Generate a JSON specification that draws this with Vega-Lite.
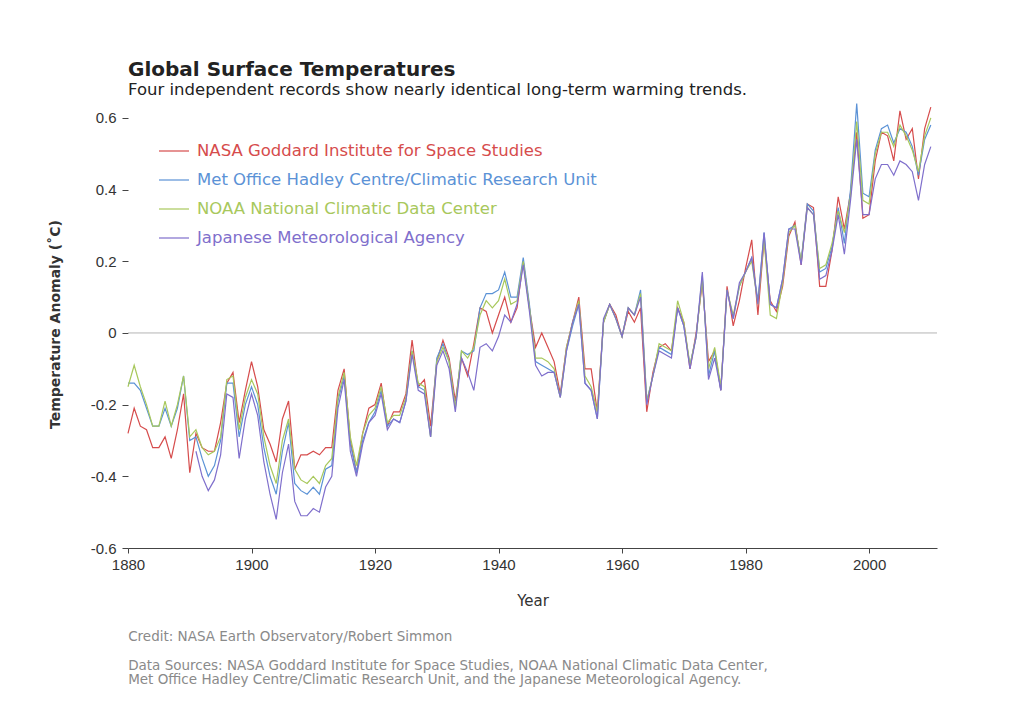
{
"$schema": "https://vega.github.io/schema/vega-lite/v6.json",
"background": "white",
"padding": {"left": 48, "top": 59, "right": 5, "bottom": 5},
"title": {"text": "Credit: NASA Earth Observatory/Robert Simmon", "subtitle": ["Data Sources: NASA Goddard Institute for Space Studies, NOAA National Climatic Data Center,", "Met Office Hadley Centre/Climatic Research Unit, and the Japanese Meteorological Agency."], "orient": "bottom", "anchor": "start", "frame": "bounds", "dx": 80, "offset": 22, "font": "DejaVu Sans", "fontSize": 13.5, "fontWeight": "normal", "color": "#8a8a8a", "subtitleFont": "DejaVu Sans", "subtitleFontSize": 13.5, "subtitleColor": "#8a8a8a", "subtitlePadding": 15, "subtitleLineHeight": 14},
"vconcat": [{
"title": {"text": "Global Surface Temperatures", "subtitle": "Four independent records show nearly identical long-term warming trends.", "anchor": "start", "frame": "group", "font": "DejaVu Sans", "fontSize": 20, "fontWeight": "bold", "color": "#222222", "subtitleFont": "DejaVu Sans", "subtitleFontSize": 16.5, "subtitleColor": "#222222", "subtitlePadding": 2, "offset": 2},
"width": 809,
"height": 448,
"layer": [
{"data": {"values": [{}]}, "mark": {"type": "rule", "color": "#b5b5b5", "strokeWidth": 1}, "encoding": {"y": {"datum": 0, "type": "quantitative"}}},
{"data": {"values": [
{"x":1880,"s":"a","t":-0.28},{"x":1881,"s":"a","t":-0.21},{"x":1882,"s":"a","t":-0.26},{"x":1883,"s":"a","t":-0.27},{"x":1884,"s":"a","t":-0.32},{"x":1885,"s":"a","t":-0.32},{"x":1886,"s":"a","t":-0.29},{"x":1887,"s":"a","t":-0.35},{"x":1888,"s":"a","t":-0.27},{"x":1889,"s":"a","t":-0.17},
{"x":1890,"s":"a","t":-0.39},{"x":1891,"s":"a","t":-0.28},{"x":1892,"s":"a","t":-0.32},{"x":1893,"s":"a","t":-0.33},{"x":1894,"s":"a","t":-0.33},{"x":1895,"s":"a","t":-0.25},{"x":1896,"s":"a","t":-0.14},{"x":1897,"s":"a","t":-0.11},{"x":1898,"s":"a","t":-0.25},{"x":1899,"s":"a","t":-0.16},
{"x":1900,"s":"a","t":-0.08},{"x":1901,"s":"a","t":-0.15},{"x":1902,"s":"a","t":-0.27},{"x":1903,"s":"a","t":-0.31},{"x":1904,"s":"a","t":-0.36},{"x":1905,"s":"a","t":-0.24},{"x":1906,"s":"a","t":-0.19},{"x":1907,"s":"a","t":-0.38},{"x":1908,"s":"a","t":-0.34},{"x":1909,"s":"a","t":-0.34},
{"x":1910,"s":"a","t":-0.33},{"x":1911,"s":"a","t":-0.34},{"x":1912,"s":"a","t":-0.32},{"x":1913,"s":"a","t":-0.32},{"x":1914,"s":"a","t":-0.16},{"x":1915,"s":"a","t":-0.10},{"x":1916,"s":"a","t":-0.30},{"x":1917,"s":"a","t":-0.39},{"x":1918,"s":"a","t":-0.28},{"x":1919,"s":"a","t":-0.21},
{"x":1920,"s":"a","t":-0.20},{"x":1921,"s":"a","t":-0.14},{"x":1922,"s":"a","t":-0.26},{"x":1923,"s":"a","t":-0.22},{"x":1924,"s":"a","t":-0.22},{"x":1925,"s":"a","t":-0.17},{"x":1926,"s":"a","t":-0.02},{"x":1927,"s":"a","t":-0.15},{"x":1928,"s":"a","t":-0.13},{"x":1929,"s":"a","t":-0.26},
{"x":1930,"s":"a","t":-0.08},{"x":1931,"s":"a","t":-0.02},{"x":1932,"s":"a","t":-0.07},{"x":1933,"s":"a","t":-0.19},{"x":1934,"s":"a","t":-0.07},{"x":1935,"s":"a","t":-0.12},{"x":1936,"s":"a","t":-0.03},{"x":1937,"s":"a","t":0.07},{"x":1938,"s":"a","t":0.06},{"x":1939,"s":"a","t":0.00},
{"x":1940,"s":"a","t":0.05},{"x":1941,"s":"a","t":0.10},{"x":1942,"s":"a","t":0.03},{"x":1943,"s":"a","t":0.07},{"x":1944,"s":"a","t":0.20},{"x":1945,"s":"a","t":0.07},{"x":1946,"s":"a","t":-0.04},{"x":1947,"s":"a","t":0.00},{"x":1948,"s":"a","t":-0.04},{"x":1949,"s":"a","t":-0.08},
{"x":1950,"s":"a","t":-0.17},{"x":1951,"s":"a","t":-0.04},{"x":1952,"s":"a","t":0.03},{"x":1953,"s":"a","t":0.10},{"x":1954,"s":"a","t":-0.10},{"x":1955,"s":"a","t":-0.10},{"x":1956,"s":"a","t":-0.22},{"x":1957,"s":"a","t":0.03},{"x":1958,"s":"a","t":0.08},{"x":1959,"s":"a","t":0.05},
{"x":1960,"s":"a","t":-0.01},{"x":1961,"s":"a","t":0.06},{"x":1962,"s":"a","t":0.03},{"x":1963,"s":"a","t":0.07},{"x":1964,"s":"a","t":-0.22},{"x":1965,"s":"a","t":-0.11},{"x":1966,"s":"a","t":-0.04},{"x":1967,"s":"a","t":-0.03},{"x":1968,"s":"a","t":-0.05},{"x":1969,"s":"a","t":0.07},
{"x":1970,"s":"a","t":0.03},{"x":1971,"s":"a","t":-0.10},{"x":1972,"s":"a","t":0.00},{"x":1973,"s":"a","t":0.14},{"x":1974,"s":"a","t":-0.08},{"x":1975,"s":"a","t":-0.05},{"x":1976,"s":"a","t":-0.16},{"x":1977,"s":"a","t":0.13},{"x":1978,"s":"a","t":0.02},{"x":1979,"s":"a","t":0.09},
{"x":1980,"s":"a","t":0.18},{"x":1981,"s":"a","t":0.26},{"x":1982,"s":"a","t":0.05},{"x":1983,"s":"a","t":0.26},{"x":1984,"s":"a","t":0.09},{"x":1985,"s":"a","t":0.06},{"x":1986,"s":"a","t":0.13},{"x":1987,"s":"a","t":0.27},{"x":1988,"s":"a","t":0.31},{"x":1989,"s":"a","t":0.19},
{"x":1990,"s":"a","t":0.36},{"x":1991,"s":"a","t":0.35},{"x":1992,"s":"a","t":0.13},{"x":1993,"s":"a","t":0.13},{"x":1994,"s":"a","t":0.23},{"x":1995,"s":"a","t":0.38},{"x":1996,"s":"a","t":0.29},{"x":1997,"s":"a","t":0.39},{"x":1998,"s":"a","t":0.56},{"x":1999,"s":"a","t":0.32},
{"x":2000,"s":"a","t":0.33},{"x":2001,"s":"a","t":0.48},{"x":2002,"s":"a","t":0.56},{"x":2003,"s":"a","t":0.55},{"x":2004,"s":"a","t":0.48},{"x":2005,"s":"a","t":0.62},{"x":2006,"s":"a","t":0.54},{"x":2007,"s":"a","t":0.57},{"x":2008,"s":"a","t":0.43},{"x":2009,"s":"a","t":0.57},{"x":2010,"s":"a","t":0.63},
{"x":1880,"s":"b","t":-0.14},{"x":1881,"s":"b","t":-0.14},{"x":1882,"s":"b","t":-0.16},{"x":1883,"s":"b","t":-0.21},{"x":1884,"s":"b","t":-0.26},{"x":1885,"s":"b","t":-0.26},{"x":1886,"s":"b","t":-0.21},{"x":1887,"s":"b","t":-0.26},{"x":1888,"s":"b","t":-0.21},{"x":1889,"s":"b","t":-0.12},
{"x":1890,"s":"b","t":-0.30},{"x":1891,"s":"b","t":-0.29},{"x":1892,"s":"b","t":-0.35},{"x":1893,"s":"b","t":-0.40},{"x":1894,"s":"b","t":-0.37},{"x":1895,"s":"b","t":-0.30},{"x":1896,"s":"b","t":-0.14},{"x":1897,"s":"b","t":-0.14},{"x":1898,"s":"b","t":-0.29},{"x":1899,"s":"b","t":-0.20},
{"x":1900,"s":"b","t":-0.15},{"x":1901,"s":"b","t":-0.20},{"x":1902,"s":"b","t":-0.32},{"x":1903,"s":"b","t":-0.40},{"x":1904,"s":"b","t":-0.45},{"x":1905,"s":"b","t":-0.33},{"x":1906,"s":"b","t":-0.25},{"x":1907,"s":"b","t":-0.42},{"x":1908,"s":"b","t":-0.44},{"x":1909,"s":"b","t":-0.45},
{"x":1910,"s":"b","t":-0.43},{"x":1911,"s":"b","t":-0.45},{"x":1912,"s":"b","t":-0.38},{"x":1913,"s":"b","t":-0.37},{"x":1914,"s":"b","t":-0.19},{"x":1915,"s":"b","t":-0.12},{"x":1916,"s":"b","t":-0.31},{"x":1917,"s":"b","t":-0.39},{"x":1918,"s":"b","t":-0.30},{"x":1919,"s":"b","t":-0.25},
{"x":1920,"s":"b","t":-0.22},{"x":1921,"s":"b","t":-0.16},{"x":1922,"s":"b","t":-0.26},{"x":1923,"s":"b","t":-0.24},{"x":1924,"s":"b","t":-0.25},{"x":1925,"s":"b","t":-0.19},{"x":1926,"s":"b","t":-0.05},{"x":1927,"s":"b","t":-0.15},{"x":1928,"s":"b","t":-0.16},{"x":1929,"s":"b","t":-0.29},
{"x":1930,"s":"b","t":-0.07},{"x":1931,"s":"b","t":-0.03},{"x":1932,"s":"b","t":-0.08},{"x":1933,"s":"b","t":-0.21},{"x":1934,"s":"b","t":-0.05},{"x":1935,"s":"b","t":-0.06},{"x":1936,"s":"b","t":-0.05},{"x":1937,"s":"b","t":0.07},{"x":1938,"s":"b","t":0.11},{"x":1939,"s":"b","t":0.11},
{"x":1940,"s":"b","t":0.12},{"x":1941,"s":"b","t":0.17},{"x":1942,"s":"b","t":0.10},{"x":1943,"s":"b","t":0.10},{"x":1944,"s":"b","t":0.21},{"x":1945,"s":"b","t":0.08},{"x":1946,"s":"b","t":-0.08},{"x":1947,"s":"b","t":-0.09},{"x":1948,"s":"b","t":-0.10},{"x":1949,"s":"b","t":-0.11},
{"x":1950,"s":"b","t":-0.18},{"x":1951,"s":"b","t":-0.05},{"x":1952,"s":"b","t":0.02},{"x":1953,"s":"b","t":0.08},{"x":1954,"s":"b","t":-0.14},{"x":1955,"s":"b","t":-0.16},{"x":1956,"s":"b","t":-0.24},{"x":1957,"s":"b","t":0.03},{"x":1958,"s":"b","t":0.08},{"x":1959,"s":"b","t":0.04},
{"x":1960,"s":"b","t":-0.01},{"x":1961,"s":"b","t":0.07},{"x":1962,"s":"b","t":0.05},{"x":1963,"s":"b","t":0.12},{"x":1964,"s":"b","t":-0.19},{"x":1965,"s":"b","t":-0.12},{"x":1966,"s":"b","t":-0.04},{"x":1967,"s":"b","t":-0.05},{"x":1968,"s":"b","t":-0.06},{"x":1969,"s":"b","t":0.07},
{"x":1970,"s":"b","t":0.02},{"x":1971,"s":"b","t":-0.09},{"x":1972,"s":"b","t":-0.01},{"x":1973,"s":"b","t":0.16},{"x":1974,"s":"b","t":-0.12},{"x":1975,"s":"b","t":-0.05},{"x":1976,"s":"b","t":-0.16},{"x":1977,"s":"b","t":0.12},{"x":1978,"s":"b","t":0.04},{"x":1979,"s":"b","t":0.13},
{"x":1980,"s":"b","t":0.17},{"x":1981,"s":"b","t":0.21},{"x":1982,"s":"b","t":0.09},{"x":1983,"s":"b","t":0.28},{"x":1984,"s":"b","t":0.08},{"x":1985,"s":"b","t":0.07},{"x":1986,"s":"b","t":0.15},{"x":1987,"s":"b","t":0.29},{"x":1988,"s":"b","t":0.30},{"x":1989,"s":"b","t":0.20},
{"x":1990,"s":"b","t":0.36},{"x":1991,"s":"b","t":0.34},{"x":1992,"s":"b","t":0.17},{"x":1993,"s":"b","t":0.18},{"x":1994,"s":"b","t":0.24},{"x":1995,"s":"b","t":0.35},{"x":1996,"s":"b","t":0.25},{"x":1997,"s":"b","t":0.40},{"x":1998,"s":"b","t":0.64},{"x":1999,"s":"b","t":0.39},
{"x":2000,"s":"b","t":0.38},{"x":2001,"s":"b","t":0.51},{"x":2002,"s":"b","t":0.57},{"x":2003,"s":"b","t":0.58},{"x":2004,"s":"b","t":0.53},{"x":2005,"s":"b","t":0.57},{"x":2006,"s":"b","t":0.56},{"x":2007,"s":"b","t":0.52},{"x":2008,"s":"b","t":0.44},{"x":2009,"s":"b","t":0.54},{"x":2010,"s":"b","t":0.58},
{"x":1880,"s":"c","t":-0.15},{"x":1881,"s":"c","t":-0.09},{"x":1882,"s":"c","t":-0.15},{"x":1883,"s":"c","t":-0.20},{"x":1884,"s":"c","t":-0.26},{"x":1885,"s":"c","t":-0.26},{"x":1886,"s":"c","t":-0.19},{"x":1887,"s":"c","t":-0.26},{"x":1888,"s":"c","t":-0.20},{"x":1889,"s":"c","t":-0.12},
{"x":1890,"s":"c","t":-0.29},{"x":1891,"s":"c","t":-0.27},{"x":1892,"s":"c","t":-0.32},{"x":1893,"s":"c","t":-0.34},{"x":1894,"s":"c","t":-0.33},{"x":1895,"s":"c","t":-0.29},{"x":1896,"s":"c","t":-0.13},{"x":1897,"s":"c","t":-0.12},{"x":1898,"s":"c","t":-0.27},{"x":1899,"s":"c","t":-0.18},
{"x":1900,"s":"c","t":-0.13},{"x":1901,"s":"c","t":-0.17},{"x":1902,"s":"c","t":-0.29},{"x":1903,"s":"c","t":-0.37},{"x":1904,"s":"c","t":-0.42},{"x":1905,"s":"c","t":-0.30},{"x":1906,"s":"c","t":-0.24},{"x":1907,"s":"c","t":-0.38},{"x":1908,"s":"c","t":-0.41},{"x":1909,"s":"c","t":-0.42},
{"x":1910,"s":"c","t":-0.40},{"x":1911,"s":"c","t":-0.42},{"x":1912,"s":"c","t":-0.37},{"x":1913,"s":"c","t":-0.35},{"x":1914,"s":"c","t":-0.18},{"x":1915,"s":"c","t":-0.11},{"x":1916,"s":"c","t":-0.29},{"x":1917,"s":"c","t":-0.37},{"x":1918,"s":"c","t":-0.28},{"x":1919,"s":"c","t":-0.23},
{"x":1920,"s":"c","t":-0.21},{"x":1921,"s":"c","t":-0.15},{"x":1922,"s":"c","t":-0.25},{"x":1923,"s":"c","t":-0.23},{"x":1924,"s":"c","t":-0.23},{"x":1925,"s":"c","t":-0.18},{"x":1926,"s":"c","t":-0.05},{"x":1927,"s":"c","t":-0.14},{"x":1928,"s":"c","t":-0.15},{"x":1929,"s":"c","t":-0.29},
{"x":1930,"s":"c","t":-0.08},{"x":1931,"s":"c","t":-0.04},{"x":1932,"s":"c","t":-0.08},{"x":1933,"s":"c","t":-0.21},{"x":1934,"s":"c","t":-0.05},{"x":1935,"s":"c","t":-0.07},{"x":1936,"s":"c","t":-0.04},{"x":1937,"s":"c","t":0.05},{"x":1938,"s":"c","t":0.09},{"x":1939,"s":"c","t":0.07},
{"x":1940,"s":"c","t":0.09},{"x":1941,"s":"c","t":0.15},{"x":1942,"s":"c","t":0.08},{"x":1943,"s":"c","t":0.09},{"x":1944,"s":"c","t":0.20},{"x":1945,"s":"c","t":0.07},{"x":1946,"s":"c","t":-0.07},{"x":1947,"s":"c","t":-0.07},{"x":1948,"s":"c","t":-0.08},{"x":1949,"s":"c","t":-0.10},
{"x":1950,"s":"c","t":-0.18},{"x":1951,"s":"c","t":-0.04},{"x":1952,"s":"c","t":0.03},{"x":1953,"s":"c","t":0.09},{"x":1954,"s":"c","t":-0.12},{"x":1955,"s":"c","t":-0.15},{"x":1956,"s":"c","t":-0.22},{"x":1957,"s":"c","t":0.03},{"x":1958,"s":"c","t":0.08},{"x":1959,"s":"c","t":0.04},
{"x":1960,"s":"c","t":-0.01},{"x":1961,"s":"c","t":0.07},{"x":1962,"s":"c","t":0.05},{"x":1963,"s":"c","t":0.11},{"x":1964,"s":"c","t":-0.19},{"x":1965,"s":"c","t":-0.12},{"x":1966,"s":"c","t":-0.03},{"x":1967,"s":"c","t":-0.04},{"x":1968,"s":"c","t":-0.05},{"x":1969,"s":"c","t":0.09},
{"x":1970,"s":"c","t":0.03},{"x":1971,"s":"c","t":-0.09},{"x":1972,"s":"c","t":-0.01},{"x":1973,"s":"c","t":0.15},{"x":1974,"s":"c","t":-0.10},{"x":1975,"s":"c","t":-0.04},{"x":1976,"s":"c","t":-0.15},{"x":1977,"s":"c","t":0.12},{"x":1978,"s":"c","t":0.05},{"x":1979,"s":"c","t":0.13},
{"x":1980,"s":"c","t":0.17},{"x":1981,"s":"c","t":0.20},{"x":1982,"s":"c","t":0.08},{"x":1983,"s":"c","t":0.26},{"x":1984,"s":"c","t":0.05},{"x":1985,"s":"c","t":0.04},{"x":1986,"s":"c","t":0.14},{"x":1987,"s":"c","t":0.28},{"x":1988,"s":"c","t":0.30},{"x":1989,"s":"c","t":0.20},
{"x":1990,"s":"c","t":0.35},{"x":1991,"s":"c","t":0.33},{"x":1992,"s":"c","t":0.18},{"x":1993,"s":"c","t":0.19},{"x":1994,"s":"c","t":0.25},{"x":1995,"s":"c","t":0.34},{"x":1996,"s":"c","t":0.28},{"x":1997,"s":"c","t":0.38},{"x":1998,"s":"c","t":0.59},{"x":1999,"s":"c","t":0.37},
{"x":2000,"s":"c","t":0.36},{"x":2001,"s":"c","t":0.50},{"x":2002,"s":"c","t":0.56},{"x":2003,"s":"c","t":0.56},{"x":2004,"s":"c","t":0.52},{"x":2005,"s":"c","t":0.58},{"x":2006,"s":"c","t":0.55},{"x":2007,"s":"c","t":0.51},{"x":2008,"s":"c","t":0.45},{"x":2009,"s":"c","t":0.55},{"x":2010,"s":"c","t":0.60},
{"x":1891,"s":"d","t":-0.33},{"x":1892,"s":"d","t":-0.40},{"x":1893,"s":"d","t":-0.44},{"x":1894,"s":"d","t":-0.41},{"x":1895,"s":"d","t":-0.34},{"x":1896,"s":"d","t":-0.17},{"x":1897,"s":"d","t":-0.18},{"x":1898,"s":"d","t":-0.35},{"x":1899,"s":"d","t":-0.24},
{"x":1900,"s":"d","t":-0.17},{"x":1901,"s":"d","t":-0.23},{"x":1902,"s":"d","t":-0.36},{"x":1903,"s":"d","t":-0.45},{"x":1904,"s":"d","t":-0.52},{"x":1905,"s":"d","t":-0.39},{"x":1906,"s":"d","t":-0.31},{"x":1907,"s":"d","t":-0.47},{"x":1908,"s":"d","t":-0.51},{"x":1909,"s":"d","t":-0.51},
{"x":1910,"s":"d","t":-0.49},{"x":1911,"s":"d","t":-0.50},{"x":1912,"s":"d","t":-0.43},{"x":1913,"s":"d","t":-0.40},{"x":1914,"s":"d","t":-0.21},{"x":1915,"s":"d","t":-0.13},{"x":1916,"s":"d","t":-0.33},{"x":1917,"s":"d","t":-0.40},{"x":1918,"s":"d","t":-0.31},{"x":1919,"s":"d","t":-0.25},
{"x":1920,"s":"d","t":-0.23},{"x":1921,"s":"d","t":-0.17},{"x":1922,"s":"d","t":-0.27},{"x":1923,"s":"d","t":-0.24},{"x":1924,"s":"d","t":-0.25},{"x":1925,"s":"d","t":-0.19},{"x":1926,"s":"d","t":-0.06},{"x":1927,"s":"d","t":-0.16},{"x":1928,"s":"d","t":-0.17},{"x":1929,"s":"d","t":-0.29},
{"x":1930,"s":"d","t":-0.09},{"x":1931,"s":"d","t":-0.05},{"x":1932,"s":"d","t":-0.10},{"x":1933,"s":"d","t":-0.22},{"x":1934,"s":"d","t":-0.07},{"x":1935,"s":"d","t":-0.11},{"x":1936,"s":"d","t":-0.16},{"x":1937,"s":"d","t":-0.04},{"x":1938,"s":"d","t":-0.03},{"x":1939,"s":"d","t":-0.05},
{"x":1940,"s":"d","t":-0.01},{"x":1941,"s":"d","t":0.05},{"x":1942,"s":"d","t":0.03},{"x":1943,"s":"d","t":0.08},{"x":1944,"s":"d","t":0.19},{"x":1945,"s":"d","t":0.06},{"x":1946,"s":"d","t":-0.09},{"x":1947,"s":"d","t":-0.12},{"x":1948,"s":"d","t":-0.11},{"x":1949,"s":"d","t":-0.11},
{"x":1950,"s":"d","t":-0.18},{"x":1951,"s":"d","t":-0.05},{"x":1952,"s":"d","t":0.03},{"x":1953,"s":"d","t":0.08},{"x":1954,"s":"d","t":-0.14},{"x":1955,"s":"d","t":-0.16},{"x":1956,"s":"d","t":-0.24},{"x":1957,"s":"d","t":0.04},{"x":1958,"s":"d","t":0.08},{"x":1959,"s":"d","t":0.04},
{"x":1960,"s":"d","t":-0.01},{"x":1961,"s":"d","t":0.07},{"x":1962,"s":"d","t":0.05},{"x":1963,"s":"d","t":0.10},{"x":1964,"s":"d","t":-0.20},{"x":1965,"s":"d","t":-0.12},{"x":1966,"s":"d","t":-0.05},{"x":1967,"s":"d","t":-0.06},{"x":1968,"s":"d","t":-0.07},{"x":1969,"s":"d","t":0.07},
{"x":1970,"s":"d","t":0.02},{"x":1971,"s":"d","t":-0.10},{"x":1972,"s":"d","t":-0.01},{"x":1973,"s":"d","t":0.17},{"x":1974,"s":"d","t":-0.13},{"x":1975,"s":"d","t":-0.07},{"x":1976,"s":"d","t":-0.16},{"x":1977,"s":"d","t":0.12},{"x":1978,"s":"d","t":0.04},{"x":1979,"s":"d","t":0.14},
{"x":1980,"s":"d","t":0.17},{"x":1981,"s":"d","t":0.21},{"x":1982,"s":"d","t":0.08},{"x":1983,"s":"d","t":0.28},{"x":1984,"s":"d","t":0.08},{"x":1985,"s":"d","t":0.07},{"x":1986,"s":"d","t":0.15},{"x":1987,"s":"d","t":0.29},{"x":1988,"s":"d","t":0.29},{"x":1989,"s":"d","t":0.19},
{"x":1990,"s":"d","t":0.35},{"x":1991,"s":"d","t":0.33},{"x":1992,"s":"d","t":0.15},{"x":1993,"s":"d","t":0.16},{"x":1994,"s":"d","t":0.23},{"x":1995,"s":"d","t":0.33},{"x":1996,"s":"d","t":0.22},{"x":1997,"s":"d","t":0.37},{"x":1998,"s":"d","t":0.54},{"x":1999,"s":"d","t":0.33},
{"x":2000,"s":"d","t":0.33},{"x":2001,"s":"d","t":0.43},{"x":2002,"s":"d","t":0.47},{"x":2003,"s":"d","t":0.47},{"x":2004,"s":"d","t":0.44},{"x":2005,"s":"d","t":0.48},{"x":2006,"s":"d","t":0.47},{"x":2007,"s":"d","t":0.45},{"x":2008,"s":"d","t":0.37},{"x":2009,"s":"d","t":0.47},{"x":2010,"s":"d","t":0.52}
]},
"mark": {"type": "line", "strokeWidth": 1.2, "clip": false},
"encoding": {
"x": {"field": "x", "type": "quantitative", "scale": {"domain": [1880, 2011], "nice": false, "zero": false}, "axis": {"values": [1880, 1900, 1920, 1940, 1960, 1980, 2000], "format": "d", "labelFlush": false, "title": "Year", "grid": false, "domainColor": "#444444", "tickColor": "#444444", "tickSize": 5, "labelFont": "Liberation Sans", "labelFontSize": 15, "labelColor": "#333333", "labelPadding": 4, "titleFont": "DejaVu Sans", "titleFontSize": 15, "titleFontWeight": "normal", "titleColor": "#333333", "titlePadding": 21}},
"y": {"field": "t", "type": "quantitative", "scale": {"domain": [-0.6, 0.65], "nice": false, "zero": false}, "axis": {"values": [-0.6, -0.4, -0.2, 0, 0.2, 0.4, 0.6], "labelExpr": "datum.value == 0 ? '0' : (datum.value < 0 ? '-' : '') + format(abs(datum.value), '.1f')", "grid": false, "domain": false, "tickColor": "#444444", "tickSize": 6, "labelPadding": 6, "labelFont": "Liberation Sans", "labelFontSize": 15, "labelColor": "#333333", "title": "Temperature Anomaly (˚C)", "titleFont": "DejaVu Sans", "titleFontSize": 14, "titleFontWeight": "bold", "titleColor": "#333333", "titlePadding": 28}},
"color": {"field": "s", "type": "nominal", "scale": {"domain": ["a", "b", "c", "d"], "range": ["#d64c4c", "#5b92d6", "#a8c85c", "#7f6fcc"]}, "legend": {"title": null, "orient": "none", "legendX": 30, "legendY": 35, "symbolType": "stroke", "symbolSize": 900, "symbolStrokeWidth": 1.2, "labelFont": "DejaVu Sans", "labelFontSize": 16.5, "labelOffset": 7, "rowPadding": 4, "labelLimit": 600, "labelExpr": "datum.value == 'a' ? 'NASA Goddard Institute for Space Studies' : datum.value == 'b' ? 'Met Office Hadley Centre/Climatic Research Unit' : datum.value == 'c' ? 'NOAA National Climatic Data Center' : 'Japanese Meteorological Agency'", "encode": {"labels": {"update": {"fill": {"scale": "color", "field": "value"}}}}}}
}}
]
}],
"config": {"font": "DejaVu Sans", "view": {"stroke": null}}
}
